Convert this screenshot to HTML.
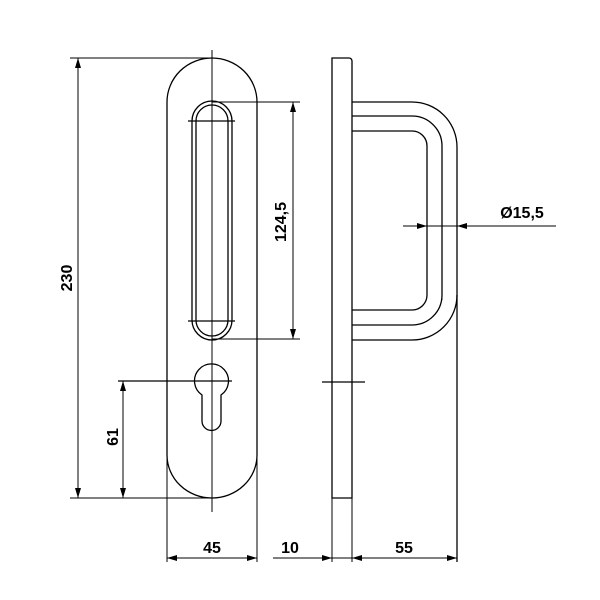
<!DOCTYPE html>
<html><head><style>html,body{margin:0;padding:0;background:#fff}svg{display:block}</style></head>
<body>
<svg width="600" height="600" viewBox="0 0 600 600" xmlns="http://www.w3.org/2000/svg">
<defs>
<marker id="a" viewBox="0 0 10 6" refX="10" refY="3" markerWidth="10" markerHeight="6" orient="auto-start-reverse" markerUnits="userSpaceOnUse"><path d="M0,0 L10,3 L0,6z" fill="#000"/></marker>
</defs>
<g fill="none" stroke="#000" stroke-width="1.3">
<path d="M167,102 A45,44 0 0 1 257,102 V455 A45,43 0 0 1 167,455 Z"/>
<path d="M192,121 A20,20 0 0 1 232,121 V320 A20,20 0 0 1 192,320 Z"/>
<path d="M196,121 A16,16 0 0 1 228,121 V320 A16,16 0 0 1 196,320 Z"/>
<line x1="188" y1="121" x2="235" y2="121"/>
<line x1="188" y1="321" x2="235" y2="321"/>
<path d="M202,395 A17,17 0 1 1 221,395 V421 A7,7 0 0 1 202,421 Z"/>
<line x1="118" y1="381" x2="232" y2="381"/>
<line x1="212" y1="50" x2="212" y2="512" stroke-width="1"/>
<path d="M332,498 V58 H349 A3,3 0 0 1 352,61 V498 Z"/>
<line x1="322" y1="382" x2="365" y2="382"/>
<path d="M352,102 H412 A45,45 0 0 1 457,147 V295 A45,45 0 0 1 412,340 H352"/>
<path d="M352,116 H412 A30,30 0 0 1 442,146 V295 A30,30 0 0 1 412,325 H352"/>
<path d="M352,131 H412 A15,15 0 0 1 427,146 V295 A15,15 0 0 1 412,310 H352"/>
<line x1="442" y1="150" x2="442" y2="300" stroke-width="0.8" stroke-dasharray="30,4,2,4"/>
<line x1="457" y1="295" x2="457" y2="562"/>
<g stroke-width="1">
<line x1="70" y1="58" x2="212" y2="58"/>
<line x1="70" y1="498" x2="212" y2="498"/>
<line x1="78" y1="58" x2="78" y2="498" marker-start="url(#a)" marker-end="url(#a)"/>
<line x1="123" y1="381" x2="123" y2="498" marker-start="url(#a)" marker-end="url(#a)"/>
<line x1="212" y1="102" x2="300" y2="102"/>
<line x1="212" y1="339" x2="300" y2="339"/>
<line x1="293" y1="102" x2="293" y2="339" marker-start="url(#a)" marker-end="url(#a)"/>
<line x1="403" y1="226" x2="427" y2="226" marker-end="url(#a)"/>
<line x1="427" y1="226" x2="457" y2="226"/>
<line x1="556" y1="226" x2="457" y2="226" marker-end="url(#a)"/>
<line x1="167" y1="455" x2="167" y2="562"/>
<line x1="257" y1="455" x2="257" y2="562"/>
<line x1="332" y1="498" x2="332" y2="562"/>
<line x1="352" y1="498" x2="352" y2="562"/>
<line x1="167" y1="558" x2="257" y2="558" marker-start="url(#a)" marker-end="url(#a)"/>
<line x1="273" y1="558" x2="332" y2="558" marker-end="url(#a)"/>
<line x1="332" y1="558" x2="352" y2="558"/>
<line x1="352" y1="558" x2="457" y2="558" marker-start="url(#a)" marker-end="url(#a)"/>
</g>
</g>
<g font-family="Liberation Sans, sans-serif" font-weight="bold" font-size="16" fill="#000" text-anchor="middle">
<text x="212" y="553">45</text>
<text x="290" y="553">10</text>
<text x="404" y="553">55</text>
<text x="522" y="218">Ø15,5</text>
<text transform="translate(72,278) rotate(-90)">230</text>
<text transform="translate(118,437) rotate(-90)">61</text>
<text transform="translate(286,222) rotate(-90)">124,5</text>
</g>
</svg>
</body></html>
